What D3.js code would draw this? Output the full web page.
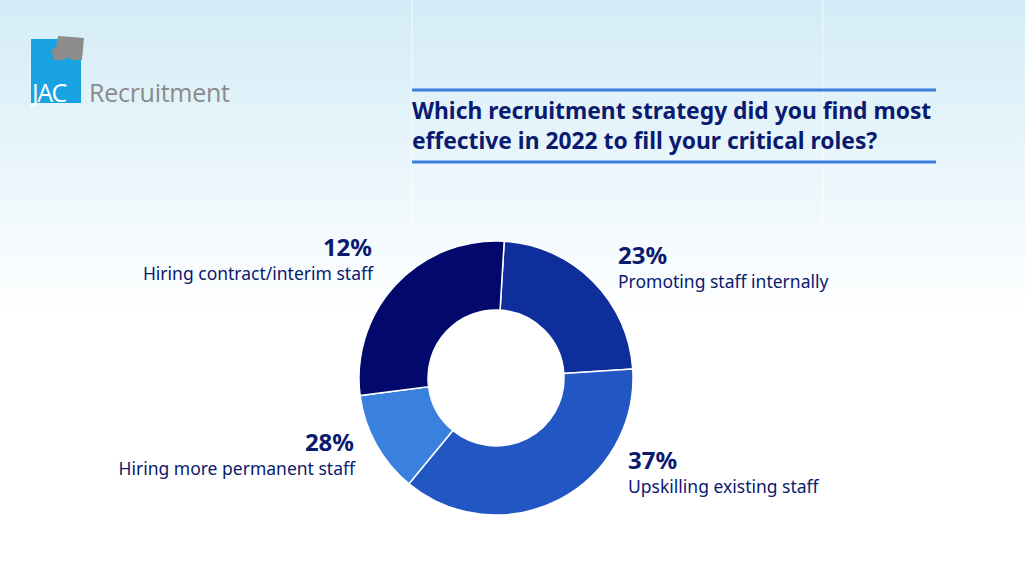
<!DOCTYPE html>
<html><head><meta charset="utf-8">
<script src="https://cdn.jsdelivr.net/npm/d3@7"></script>
<style>body{margin:0;overflow:hidden}</style>
</head><body>
<svg id="c" width="1025" height="577"></svg>
<script>
const sliceValues = [23, 37, 12, 28];
const sliceColors = ["#0e2e9c", "#2257c3", "#3a80df", "#03086c"];
const labelPcts = ["23%", "37%", "28%", "12%"];
const labelTexts = ["Promoting staff internally", "Upskilling existing staff", "Hiring more permanent staff", "Hiring contract/interim staff"];
const titleLines = ["Which recruitment strategy did you find most", "effective in 2022 to fill your critical roles?"];

const svg = d3.select("#c");
const defs = svg.append("defs");
const g = defs.append("linearGradient").attr("id","bg").attr("x1",0).attr("y1",0).attr("x2",0).attr("y2",1);
g.append("stop").attr("offset","0").attr("stop-color","#d3ecf7");
g.append("stop").attr("offset","0.55").attr("stop-color","#ffffff");
g.append("stop").attr("offset","1").attr("stop-color","#ffffff");
svg.append("rect").attr("width",1025).attr("height",577).attr("fill","url(#bg)");
[412,823].forEach(x=>svg.append("line").attr("x1",x).attr("x2",x).attr("y1",0).attr("y2",230).attr("stroke","#ffffff").attr("stroke-opacity",0.7));

// logo
svg.append("rect").attr("x",31).attr("y",39).attr("width",50).attr("height",64).attr("fill","#1aa3e3");
svg.append("path").attr("d","M58,36 L84,38 L82,60 L72,60 Q68,55 64,60 L54,60 L54,56 Q49,53 54,48 L56,48 Z").attr("fill","#8c8c8c");
svg.append("text").attr("x",32).attr("y",102).attr("font-family","Open Sans, sans-serif").attr("font-size",25).attr("letter-spacing",-1.5).attr("fill","#fff").text("JAC");
svg.append("text").attr("x",89).attr("y",102).attr("font-family","Open Sans, sans-serif").attr("font-size",25).attr("textLength",141).attr("fill","#8a8a8a").text("Recruitment");

// title
svg.append("line").attr("x1",412).attr("x2",936).attr("y1",90).attr("y2",90).attr("stroke","#3a7fe0").attr("stroke-width",3);
svg.append("line").attr("x1",412).attr("x2",936).attr("y1",162).attr("y2",162).attr("stroke","#3a7fe0").attr("stroke-width",3);
titleLines.forEach((t,i)=>svg.append("text").attr("x",412).attr("y",119+i*30).attr("font-family","Noto Sans, sans-serif").attr("font-weight","bold").attr("font-size",22.8).attr("fill","#0a1a6e").text(t));

// donut
const cx=496, cy=378;
const pie = d3.pie().sort(null).startAngle(0.06).endAngle(0.06+2*Math.PI);
const arc = d3.arc().innerRadius(68).outerRadius(137);
svg.append("g").attr("transform",`translate(${cx},${cy})`).selectAll("path").data(pie(sliceValues)).join("path")
  .attr("d",arc).attr("fill",(d,i)=>sliceColors[i]).attr("stroke","#fff").attr("stroke-width",1.5);

// labels
const lp = [[618,264,"start"],[628,469,"start"],[355,451,"end"],[373,256,"end"]];
lp.forEach((p,i)=>{
  svg.append("text").attr("x",i>=2?p[0]-1:p[0]).attr("y",p[1]).attr("text-anchor",p[2]).attr("font-family","Noto Sans, sans-serif").attr("font-weight","bold").attr("font-size",24).attr("fill","#0a1a6e").text(labelPcts[i]);
  svg.append("text").attr("x",p[0]).attr("y",p[1]+24).attr("text-anchor",p[2]).attr("font-family","Noto Sans, sans-serif").attr("font-size",17.5).attr("fill","#0a1a6e").text(labelTexts[i]);
});
</script></body></html>
